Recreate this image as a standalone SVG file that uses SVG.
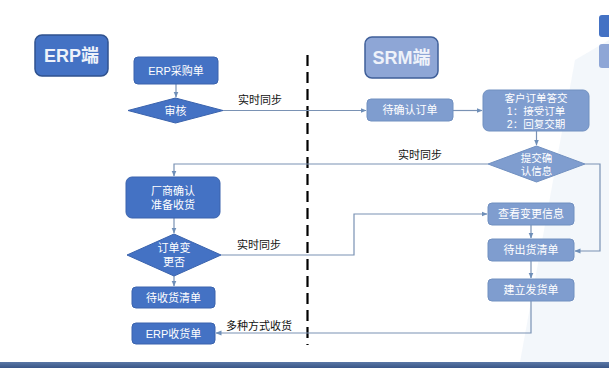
<svg xmlns="http://www.w3.org/2000/svg" width="609" height="368" viewBox="0 0 609 368">
<defs>
<marker id="arr" viewBox="0 0 6 6" refX="5.5" refY="3" markerWidth="5" markerHeight="5" orient="auto"><path d="M0,0.5 L6,3 L0,5.5 z" fill="#6f8fb8"/></marker>
<linearGradient id="bar" x1="0" y1="0" x2="0" y2="1"><stop offset="0" stop-color="#5a77a6"/><stop offset="1" stop-color="#3a5687"/></linearGradient>
</defs>
<style>
.t{font-family:"Liberation Sans","Noto Sans CJK SC",sans-serif;fill:#fff;text-anchor:middle;dominant-baseline:central}
.lb{font-family:"Liberation Sans","Noto Sans CJK SC",sans-serif;fill:#111;font-size:11px}
.e{fill:#4472c4;stroke:#3a63ad;stroke-width:1}
.s{fill:#7f9dcf;stroke:#7190c0;stroke-width:1}
.c{fill:none;stroke:#7a92b4;stroke-width:1.2}
.h{font-family:"Liberation Sans","Noto Sans CJK SC",sans-serif;font-weight:bold;font-size:18px;fill:#eef2fa;text-anchor:middle;dominant-baseline:central}
</style>
<rect width="609" height="368" fill="#ffffff"/>
<polygon points="575,60 609,40 609,362 520,362" fill="#eef3fa" opacity="0.7"/>
<rect x="599" y="15" width="14" height="22" rx="3" fill="#4472c4"/>
<rect x="599" y="44" width="14" height="24" rx="3" fill="#8ea6d6"/>
<rect x="0" y="362" width="609" height="6" fill="url(#bar)"/>
<line x1="307.5" y1="55" x2="307.5" y2="345" stroke="#000" stroke-width="2.2" stroke-dasharray="11,6"/>
<g id="connectors">
<line class="c" x1="176" y1="84" x2="176" y2="97" marker-end="url(#arr)"/>
<line class="c" x1="223" y1="110.5" x2="366" y2="110.5" marker-end="url(#arr)"/>
<line class="c" x1="453" y1="110.5" x2="482" y2="110.5" marker-end="url(#arr)"/>
<line class="c" x1="536.5" y1="131" x2="536.5" y2="145" marker-end="url(#arr)"/>
<polyline class="c" points="488,164 174,164 174,176" marker-end="url(#arr)"/>
<polyline class="c" points="585,164 600,164 600,251 575,251" marker-end="url(#arr)"/>
<line class="c" x1="174" y1="218" x2="174" y2="233" marker-end="url(#arr)"/>
<polyline class="c" points="221,255 354,255 354,214 487,214" marker-end="url(#arr)"/>
<line class="c" x1="174" y1="276" x2="174" y2="286" marker-end="url(#arr)"/>
<line class="c" x1="531" y1="225" x2="531" y2="238" marker-end="url(#arr)"/>
<line class="c" x1="531" y1="261" x2="531" y2="278" marker-end="url(#arr)"/>
<polyline class="c" points="531,301 531,333 216,333" marker-end="url(#arr)"/>
<text class="lb" x="238" y="104">实时同步</text>
<text class="lb" x="398" y="159">实时同步</text>
<text class="lb" x="237" y="249">实时同步</text>
<text class="lb" x="226" y="330">多种方式收货</text>
</g>
<g id="erp-title"><rect x="35" y="35" width="73" height="41" rx="7" fill="#4472c4" stroke="#2f528f" stroke-width="1.5"/><text class="h" x="71.5" y="56">ERP端</text></g>
<g id="srm-title"><rect x="365" y="37" width="73" height="41" rx="7" fill="#8ea6d6" stroke="#3f5f99" stroke-width="1.5"/><text class="h" x="401.5" y="58">SRM端</text></g>
<g id="erp-po"><rect class="e" x="134" y="57" width="84" height="27" rx="4"/><text class="t" x="176" y="70.5" font-size="11">ERP采购单</text></g>
<g id="audit"><polygon class="e" points="128,110.5 175.5,98 223,110.5 175.5,123"/><text class="t" x="175.5" y="110.5" font-size="11">审核</text></g>
<g id="pending-confirm"><rect class="s" x="367" y="99" width="86" height="22" rx="4"/><text class="t" x="410" y="110" font-size="11">待确认订单</text></g>
<g id="customer-reply"><rect class="s" x="483" y="90" width="106" height="41" rx="6"/><text class="t" x="536" y="97.5" font-size="10.5">客户订单答交</text><text class="t" x="536" y="110.5" font-size="10.5">1：接受订单</text><text class="t" x="536" y="123.5" font-size="10.5">2：回复交期</text></g>
<g id="submit-confirm"><polygon class="s" points="488,164 536.5,146 585,164 536.5,182"/><text class="t" x="536.5" y="157.5" font-size="10.5">提交确</text><text class="t" x="536.5" y="170.5" font-size="10.5">认信息</text></g>
<g id="vendor-confirm"><rect class="e" x="126" y="177" width="94" height="41" rx="6"/><text class="t" x="173" y="190.5" font-size="11">厂商确认</text><text class="t" x="173" y="204.5" font-size="11">准备收货</text></g>
<g id="order-change"><polygon class="e" points="127,255 174,234 221,255 174,276"/><text class="t" x="174" y="248" font-size="11">订单变</text><text class="t" x="174" y="262" font-size="11">更否</text></g>
<g id="pending-receive"><rect class="e" x="132" y="287" width="83" height="21" rx="4"/><text class="t" x="173.5" y="297.5" font-size="11">待收货清单</text></g>
<g id="erp-receipt"><rect class="e" x="132" y="323" width="83" height="21" rx="4"/><text class="t" x="173.5" y="333.5" font-size="11">ERP收货单</text></g>
<g id="view-change"><rect class="s" x="488" y="203" width="86" height="22" rx="4"/><text class="t" x="531" y="214" font-size="11">查看变更信息</text></g>
<g id="pending-ship"><rect class="s" x="488" y="239" width="86" height="22" rx="4"/><text class="t" x="531" y="250" font-size="11">待出货清单</text></g>
<g id="create-ship"><rect class="s" x="488" y="279" width="86" height="22" rx="4"/><text class="t" x="531" y="290" font-size="11">建立发货单</text></g>
</svg>
